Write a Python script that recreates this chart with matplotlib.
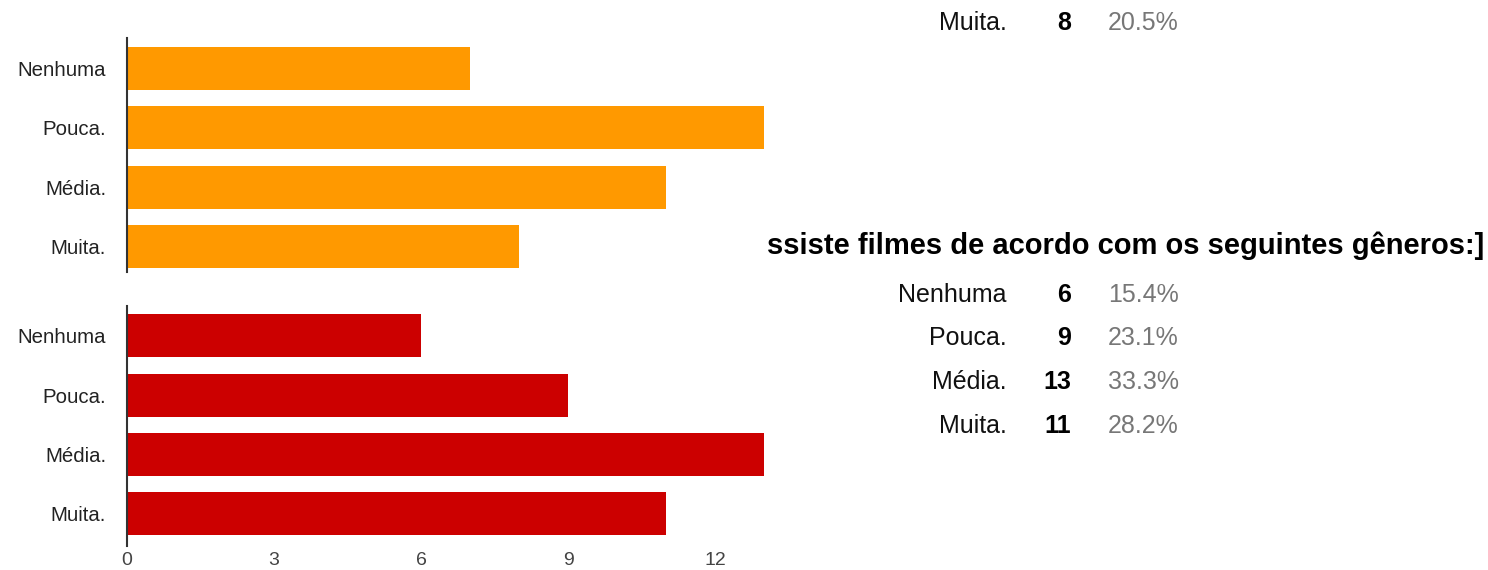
import matplotlib.pyplot as plt

plt.rcParams["font.family"] = ["Liberation Sans", "DejaVu Sans"]

# data
labels = ["Nenhuma", "Pouca.", "Média.", "Muita."]
top_counts = [7, 13, 11, 8]
bottom_counts = [6, 9, 13, 11]
bottom_pcts = ["15.4%", "23.1%", "33.3%", "28.2%"]
top_last_label = "Muita."
top_last_count = 8
top_last_pct = "20.5%"
title_text = "ssiste filmes de acordo com os seguintes gêneros:]"
x_ticks = [0, 3, 6, 9, 12]

W, H = 1488, 570
fig = plt.figure(figsize=(W / 100, H / 100), dpi=100)


def px_box(left, top, right, bottom):
    return [left / W, 1 - bottom / H, (right - left) / W, (bottom - top) / H]


def style_axes(ax, ylim, show_x):
    ax.set_xlim(0, 13)
    ax.set_ylim(*ylim)
    for side in ["top", "right", "bottom"]:
        ax.spines[side].set_visible(False)
    ax.spines["left"].set_color("#333333")
    ax.spines["left"].set_linewidth(1.5)
    ax.set_yticks(range(len(labels)))
    ax.set_yticklabels(labels, fontsize=14.7, color="#222222")
    ax.tick_params(axis="y", length=0, pad=15)
    if show_x:
        ax.set_xticks(x_ticks)
        ax.set_xticklabels([str(t) for t in x_ticks], fontsize=14, color="#444444")
        ax.tick_params(axis="x", length=0, pad=4)
    else:
        ax.set_xticks([])


ax1 = fig.add_axes(px_box(127, 38, 764, 272))
ax1.barh(range(len(labels)), top_counts, height=0.725, color="#FF9900")
style_axes(ax1, (3.43, -0.51), False)

ax2 = fig.add_axes(px_box(127, 306, 764, 546))
ax2.barh(range(len(labels)), bottom_counts, height=0.725, color="#CC0000")
style_axes(ax2, (3.54, -0.5), True)


def fig_y(py):
    return 1 - py / H


def table_row(py, label, count, pct):
    fig.text(1007 / W, fig_y(py), label, ha="right", va="center", fontsize=18, color="#111111")
    fig.text(1071 / W, fig_y(py), str(count), ha="right", va="center", fontsize=18,
             fontweight="bold", color="#000000")
    fig.text(1108 / W, fig_y(py), pct, ha="left", va="center", fontsize=18, color="#777777")


table_row(23, top_last_label, top_last_count, top_last_pct)

fig.text(1484 / W, fig_y(246), title_text, ha="right", va="center", fontsize=21,
         fontweight="bold", color="#000000")

row_y = [295, 338, 382, 426]
for py, lab, c, p in zip(row_y, labels, bottom_counts, bottom_pcts):
    table_row(py, lab, c, p)

fig.savefig("out.png", dpi=100, facecolor="white")
